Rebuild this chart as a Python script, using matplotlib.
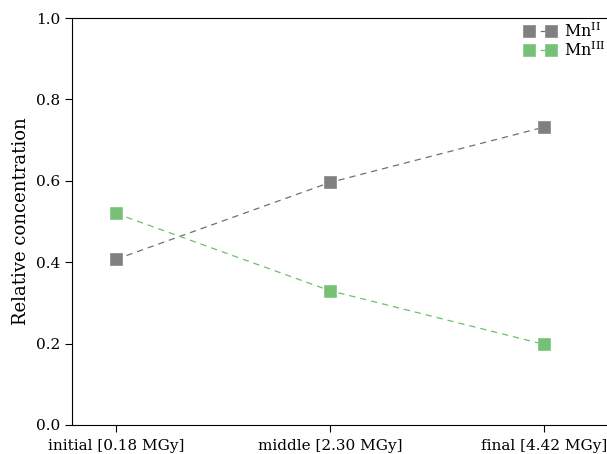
import numpy as np
import matplotlib
matplotlib.use('Agg')
import matplotlib.pyplot as plt

plt.rcParams['font.family'] = 'DejaVu Serif'
plt.rcParams['mathtext.fontset'] = 'dejavuserif'

labels = ['initial [0.18 MGy]', 'middle [2.30 MGy]', 'final [4.42 MGy]']
mn2 = [0.407, 0.596, 0.732]
mn3 = [0.520, 0.330, 0.198]

fig = plt.figure(figsize=(6.07, 4.54), dpi=100)
ax = fig.add_axes([72 / 607, 29 / 454, 545 / 607, 407 / 454])
x = np.arange(len(labels))

ax.plot(x, mn2, ls='--', dashes=(5, 4), lw=0.9, color='#707070', marker='s', ms=9,
        mfc='#808080', mec='#909090', mew=0.6, label=r'Mn$^{\rm II}$')
ax.plot(x, mn3, ls='--', dashes=(5, 4), lw=0.9, color='#6cc06c', marker='s', ms=9,
        mfc='#77c177', mec='#8ac98a', mew=0.6, label=r'Mn$^{\rm III}$')

ax.set_xlim(-0.205, 2.34)
ax.set_ylim(0, 1.0)
ax.set_xticks(x)
ax.set_xticklabels(labels, fontsize=11)
ax.set_yticks([0.0, 0.2, 0.4, 0.6, 0.8, 1.0])
ax.tick_params(axis='y', labelsize=11, direction='out', length=5)
ax.tick_params(axis='x', direction='out', length=5, pad=5)
ax.tick_params(top=False, right=False)
ax.spines['right'].set_visible(False)
ax.set_ylabel('Relative concentration', fontsize=13)
ax.legend(loc='upper right', frameon=False, numpoints=2, fontsize=11.5,
          handlelength=2.0, handletextpad=0.5, labelspacing=0.0,
          borderaxespad=0.0, bbox_to_anchor=(1.0 - 5 / 545, 1.005))

fig.savefig('out.png', dpi=100)
